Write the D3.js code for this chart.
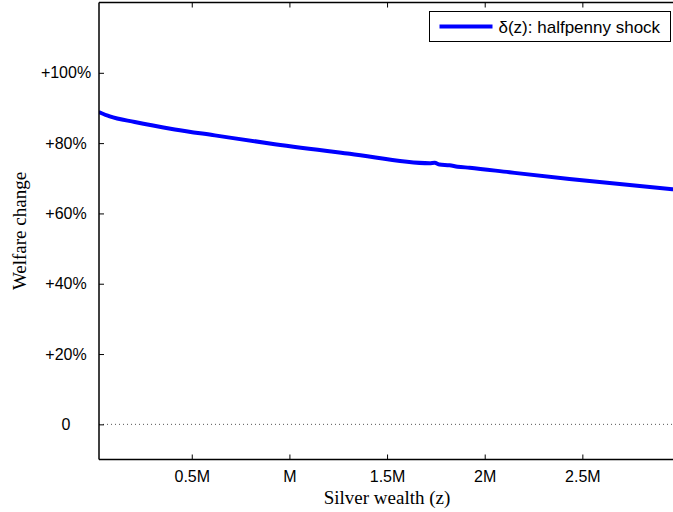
<!DOCTYPE html>
<html>
<head>
<meta charset="utf-8">
<script src="https://cdn.jsdelivr.net/npm/d3@7"></script>
<style>
  body { margin: 0; background: #fff; }
  svg { display: block; }
  .tick-label { font-family: "Liberation Sans", Arial, sans-serif; font-size: 16px; fill: #000; }
  .legend-label { font-family: "Liberation Sans", Arial, sans-serif; font-size: 17px; fill: #000; }
  .axis-title { font-family: "Liberation Serif", "Times New Roman", serif; font-size: 19px; fill: #000; }
</style>
</head>
<body>
<div id="chart"></div>
<script>
// wealth in millions, welfare change as a fraction
const wealth = [0.024, 0.08, 0.208, 0.413, 0.618, 0.925, 1.309, 1.718, 1.744, 1.769, 1.82, 1.861, 1.923, 2.127, 2.434, 2.961, 3.0];
const delta  = [0.8885, 0.876, 0.86, 0.839, 0.822, 0.797, 0.770, 0.743, 0.744, 0.739, 0.737, 0.733, 0.730, 0.717, 0.698, 0.669, 0.667];

const xTicks = [0.5, 1, 1.5, 2, 2.5];
const xTickLabels = ['0.5M', 'M', '1.5M', '2M', '2.5M'];
const yTicks = [0, 0.2, 0.4, 0.6, 0.8, 1.0];
const yTickLabels = ['0', '+20%', '+40%', '+60%', '+80%', '+100%'];
const seriesName = 'δ(z): halfpenny shock';

const width = 673, height = 512;
const margin = { left: 99, top: 2.5, right: 680, bottom: 459.5 };

const svg = d3.select('#chart')
  .append('svg')
  .attr('width', width)
  .attr('height', height);

const x = d3.scaleLinear().domain([0.025, 3.0]).range([margin.left, margin.right]);
const y = d3.scaleLinear().domain([-0.1, 1.2]).range([margin.bottom, margin.top]);

svg.append('clipPath').attr('id', 'plot-clip')
  .append('rect')
  .attr('x', margin.left).attr('y', margin.top)
  .attr('width', margin.right - margin.left)
  .attr('height', margin.bottom - margin.top);

// zero reference line
svg.append('line')
  .attr('x1', margin.left).attr('x2', width)
  .attr('y1', y(0)).attr('y2', y(0))
  .attr('stroke', '#555')
  .attr('stroke-width', 1)
  .attr('stroke-dasharray', '1,3');

// the curve
const line = d3.line()
  .curve(d3.curveMonotoneX)
  .x((d, i) => x(wealth[i]))
  .y(d => y(d));

svg.append('path')
  .datum(delta)
  .attr('clip-path', 'url(#plot-clip)')
  .attr('fill', 'none')
  .attr('stroke', '#0000ff')
  .attr('stroke-width', 4)
  .attr('stroke-linejoin', 'round')
  .attr('d', line);

// axes, matlab style with ticks pointing inward
const xAxis = svg.append('g')
  .attr('transform', `translate(0,${margin.bottom})`)
  .call(d3.axisBottom(x).tickValues(xTicks).tickSize(-5).tickFormat((d, i) => xTickLabels[i]));
xAxis.select('.domain').attr('d', `M${margin.left},0H${width}`);

const xTop = svg.append('g')
  .attr('transform', `translate(0,${margin.top})`)
  .call(d3.axisTop(x).tickValues(xTicks).tickSize(-5).tickFormat(''));
xTop.select('.domain').attr('d', `M${margin.left},0H${width}`);

const yAxis = svg.append('g')
  .attr('transform', `translate(${margin.left},0)`)
  .call(d3.axisLeft(y).tickValues(yTicks).tickSize(-5).tickFormat((d, i) => yTickLabels[i]));
yAxis.select('.domain').attr('d', `M0,${margin.top}V${margin.bottom}`);

svg.selectAll('.domain').attr('stroke', '#000').attr('stroke-width', 1.5);
svg.selectAll('.tick line').attr('stroke', '#000').attr('stroke-width', 1);

xAxis.selectAll('.tick text')
  .attr('class', 'tick-label')
  .attr('y', 11);

yAxis.selectAll('.tick text')
  .attr('class', 'tick-label')
  .attr('text-anchor', 'middle')
  .attr('x', -33);
yAxis.attr('font-size', null).attr('font-family', null);
xAxis.attr('font-size', null).attr('font-family', null);

// axis titles
svg.append('text')
  .attr('class', 'axis-title')
  .attr('x', 387)
  .attr('y', 504)
  .attr('text-anchor', 'middle')
  .text('Silver wealth (z)');

svg.append('text')
  .attr('class', 'axis-title')
  .attr('transform', `translate(26,${(margin.top + margin.bottom) / 2}) rotate(-90)`)
  .attr('text-anchor', 'middle')
  .text('Welfare change');

// legend
const legend = svg.append('g').attr('transform', 'translate(429.5,11.5)');
legend.append('rect')
  .attr('width', 241).attr('height', 30)
  .attr('fill', '#fff')
  .attr('stroke', '#000')
  .attr('stroke-width', 1);
legend.append('line')
  .attr('x1', 10).attr('x2', 63)
  .attr('y1', 15).attr('y2', 15)
  .attr('stroke', '#0000ff')
  .attr('stroke-width', 4);
legend.append('text')
  .attr('class', 'legend-label')
  .attr('x', 69).attr('y', 21)
  .text(seriesName);
</script>
</body>
</html>
